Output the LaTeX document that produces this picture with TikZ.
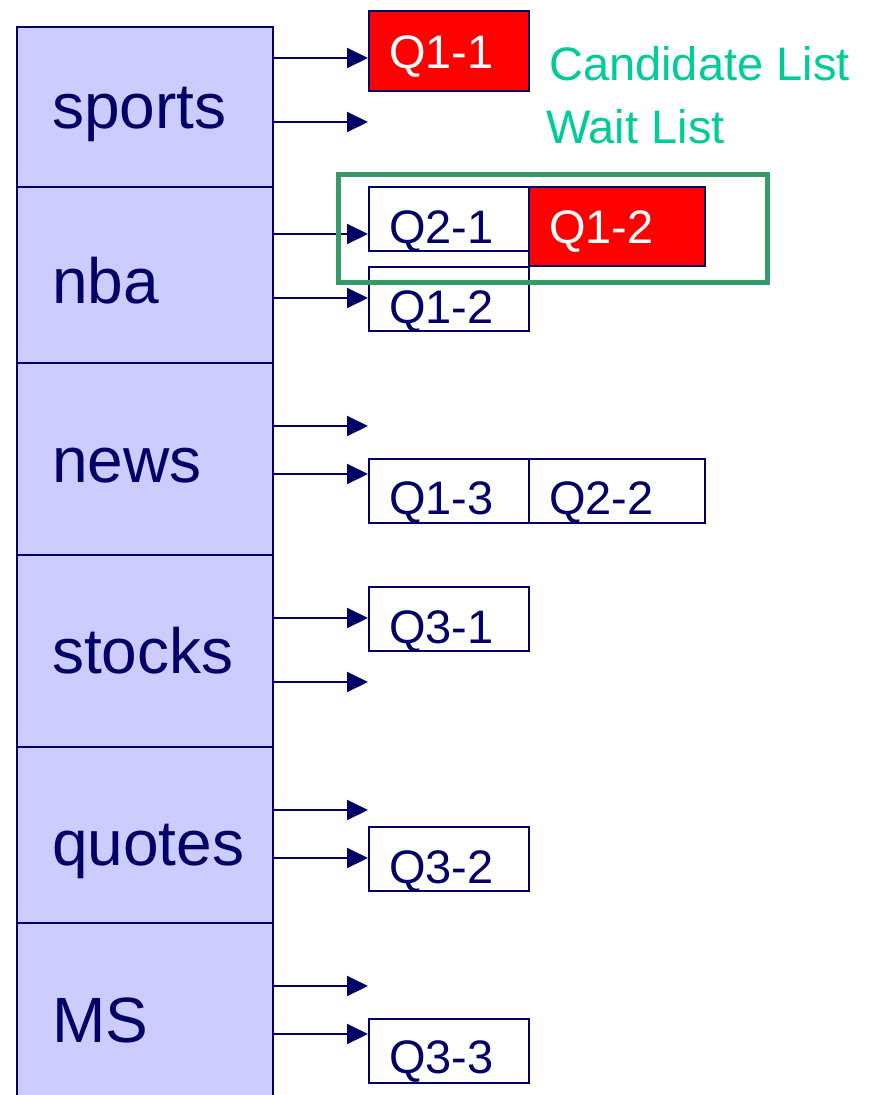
\documentclass[tikz,border=0pt]{standalone}
\usepackage{fontspec}
\setmainfont{Liberation Sans}
\usetikzlibrary{arrows.meta}
\definecolor{navy}{HTML}{000066}
\definecolor{cellblue}{HTML}{CCCCFF}
\definecolor{qredc}{HTML}{FF0000}
\definecolor{listgreen}{HTML}{00CC99}
\definecolor{framegreen}{HTML}{359C69}
\begin{document}
\begin{tikzpicture}[x=1pt,y=-1pt,
  cell/.style={draw=navy, line width=2pt, fill=cellblue, anchor=north west, minimum width=256pt, inner sep=0pt},
  celltext/.style={anchor=base west, text=navy, font=\fontsize{64}{64}\selectfont, inner sep=0pt},
  qbox/.style={draw=navy, line width=2pt, fill=white, anchor=north west, inner xsep=20pt, inner ysep=0pt, text width=120pt, text height=56pt, text depth=8pt, text=navy, font=\fontsize{47}{47}\selectfont, align=left},
  qwide/.style={qbox, text width=136pt},
  qred/.style={fill=qredc, text=white, text depth=23pt},
  ptr/.style={draw=navy, line width=2pt, -{Triangle[length=21pt,width=20pt]}},
  listlabel/.style={anchor=base west, text=listgreen, font=\fontsize{47}{47}\selectfont, inner sep=0pt},
  frame/.style={draw=framegreen, line width=4.5pt, anchor=north west, inner sep=0pt}
]
\clip (0,0) rectangle (874,1095);
\fill[white] (0,0) rectangle (874,1095);

% column cells
\node[cell, minimum height=160pt] (c1) at (16,26) {};
\node[cell, minimum height=176pt] (c2) at (16,186) {};
\node[cell, minimum height=192pt] (c3) at (16,362) {};
\node[cell, minimum height=192pt] (c4) at (16,554) {};
\node[cell, minimum height=176pt] (c5) at (16,746) {};
\node[cell, minimum height=190pt] (c6) at (16,922) {};

\node[celltext] (t1) at (52,128) {sports};
\node[celltext] (t2) at (52,303) {nba};
\node[celltext] (t3) at (52,482) {news};
\node[celltext] (t4) at (52,673) {stocks};
\node[celltext] (t5) at (52,865) {quotes};
\node[celltext] (t6) at (52,1042) {MS};

% list boxes
\node[qbox, qred, text height=57pt] (q11) at (368,10) {Q1-1};
\node[qbox] (q21) at (368,186) {Q2-1};
\node[qwide, qred] (q12r) at (528,186) {Q1-2};
\node[qbox] (q12) at (368,266) {Q1-2};
\node[qbox, text height=55pt, text depth=9pt] (q13) at (368,458) {Q1-3};
\node[qwide, text height=55pt, text depth=9pt] (q22) at (528,458) {Q2-2};
\node[qbox] (q31) at (368,586) {Q3-1};
\node[qbox] (q32) at (368,826) {Q3-2};
\node[qbox, text height=54pt, text depth=10pt] (q33) at (368,1018) {Q3-3};

% pointer start points on the column edge
\coordinate (a1) at (272,58);
\coordinate (a2) at (272,122);
\coordinate (a3) at (272,234);
\coordinate (a4) at (272,298);
\coordinate (a5) at (272,426);
\coordinate (a6) at (272,474);
\coordinate (a7) at (272,618);
\coordinate (a8) at (272,682);
\coordinate (a9) at (272,810);
\coordinate (a10) at (272,858);
\coordinate (a11) at (272,986);
\coordinate (a12) at (272,1034);
% free ends
\coordinate (e2) at (368,122);
\coordinate (e5) at (368,426);
\coordinate (e8) at (368,682);
\coordinate (e9) at (368,810);
\coordinate (e11) at (368,986);

\draw[ptr] (a1) -- (a1 -| q11.west);
\draw[ptr] (a2) -- (e2);
\draw[ptr] (a3) -- (a3 -| q21.west);
\draw[ptr] (a4) -- (a4 -| q12.west);
\draw[ptr] (a5) -- (e5);
\draw[ptr] (a6) -- (a6 -| q13.west);
\draw[ptr] (a7) -- (a7 -| q31.west);
\draw[ptr] (a8) -- (e8);
\draw[ptr] (a9) -- (e9);
\draw[ptr] (a10) -- (a10 -| q32.west);
\draw[ptr] (a11) -- (e11);
\draw[ptr] (a12) -- (a12 -| q33.west);

% legend labels
\node[listlabel] (cand) at (549,80) {Candidate List};
\node[listlabel] (wait) at (546,143) {Wait List};

% highlight frame
\node[frame, minimum width=429pt, minimum height=108pt] (hl) at (336,172) {};
\end{tikzpicture}
\end{document}
